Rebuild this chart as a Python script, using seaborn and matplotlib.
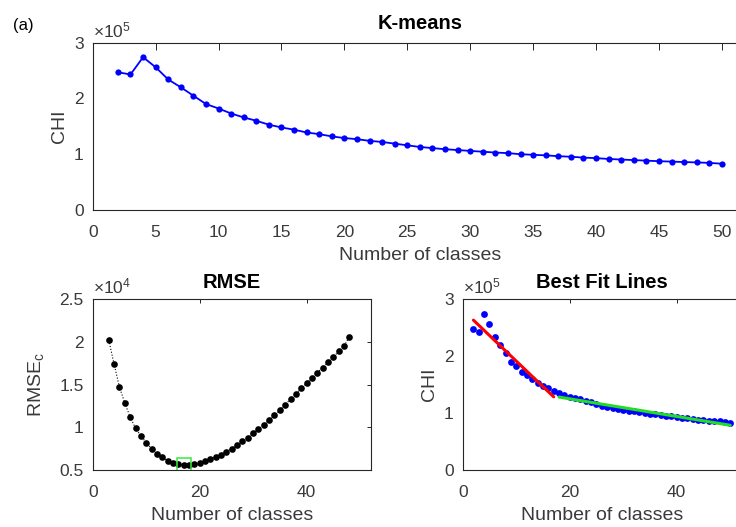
import numpy as np
import pandas as pd
import matplotlib
matplotlib.use("Agg")
import matplotlib.pyplot as plt
import seaborn as sns

# Calinski-Harabasz index for k-means with k = 2..50
classes = list(range(2, 51))
chi = [2.47e5, 2.43e5, 2.74e5, 2.56e5, 2.34e5, 2.20e5, 2.05e5, 1.90e5, 1.82e5,
       1.73e5, 1.66e5, 1.60e5, 1.53e5, 1.48e5, 1.44e5, 1.39e5, 1.36e5, 1.32e5,
       1.29e5, 1.27e5, 1.24e5, 1.22e5, 1.19e5, 1.16e5, 1.13e5, 1.11e5, 1.09e5,
       1.075e5, 1.06e5, 1.045e5, 1.03e5, 1.02e5, 1.00e5, 0.99e5, 0.98e5, 0.965e5,
       0.955e5, 0.94e5, 0.93e5, 0.915e5, 0.905e5, 0.895e5, 0.885e5, 0.875e5,
       0.868e5, 0.86e5, 0.853e5, 0.845e5, 0.83e5]

# RMSE of the two-segment fit, split point c = 3..48
split_points = list(range(3, 49))
rmse = [2.02e4, 1.74e4, 1.47e4, 1.285e4, 1.12e4, 0.99e4, 0.90e4, 0.82e4, 0.75e4,
        0.69e4, 0.65e4, 0.61e4, 0.585e4, 0.565e4, 0.553e4, 0.556e4, 0.57e4,
        0.585e4, 0.605e4, 0.63e4, 0.655e4, 0.68e4, 0.715e4, 0.75e4, 0.79e4,
        0.835e4, 0.88e4, 0.93e4, 0.98e4, 1.03e4, 1.085e4, 1.14e4, 1.20e4,
        1.265e4, 1.33e4, 1.39e4, 1.457e4, 1.515e4, 1.575e4, 1.64e4, 1.70e4,
        1.76e4, 1.82e4, 1.89e4, 1.95e4, 2.06e4]

chi_ticks = [0, 1e5, 2e5, 3e5]
chi_ticklabels = ["0", "1", "2", "3"]
rmse_ticks = [0.5e4, 1e4, 1.5e4, 2e4, 2.5e4]
rmse_ticklabels = ["0.5", "1", "1.5", "2", "2.5"]

sns.set_theme(style="white")
plt.rcParams["font.family"] = ["Liberation Sans", "DejaVu Sans"]
plt.rcParams["mathtext.fontset"] = "custom"
plt.rcParams["mathtext.rm"] = "Liberation Sans"
plt.rcParams["mathtext.it"] = "Liberation Sans:italic"

DARK = "#262626"
GREY = "#3a3a3a"
TICK_FS = 12.5
LABEL_FS = 14
TITLE_FS = 14.5

df_chi = pd.DataFrame({"k": classes, "chi": chi})
df_rmse = pd.DataFrame({"c": split_points, "rmse": rmse})

fig = plt.figure(figsize=(7.36, 5.27), dpi=100)
ax_top = fig.add_axes([0.126, 0.6015, 0.889, 0.3175])
ax_bl = fig.add_axes([0.126, 0.1082, 0.3777, 0.324])
ax_br = fig.add_axes([0.6287, 0.1082, 0.378, 0.324])


def style_axes(ax, ticklen):
    for s in ax.spines.values():
        s.set_visible(True)
        s.set_color(DARK)
        s.set_linewidth(0.8)
    ax.tick_params(direction="in", top=True, right=True, length=ticklen,
                   width=0.7, colors=DARK, labelsize=TICK_FS, labelcolor=GREY)
    ax.tick_params(axis="x", pad=10.5)
    ax.tick_params(axis="y", pad=6.5)
    ax.grid(False)


def exponent(ax, power):
    ax.text(0.0, 1.015, "×10$^{%d}$" % power, transform=ax.transAxes,
            ha="left", va="bottom", fontsize=12.5, color=GREY)


def labels(ax, xlabel, ylabel, title, title_pad, ylabelpad=4):
    ax.set_xlabel(xlabel, fontsize=LABEL_FS, color=GREY, labelpad=5)
    ax.set_ylabel(ylabel, fontsize=LABEL_FS, color=GREY, labelpad=ylabelpad)
    ax.set_title(title, fontsize=TITLE_FS, fontweight="bold", color="black",
                 pad=title_pad)


# Top: CHI against number of classes
sns.lineplot(data=df_chi, x="k", y="chi", ax=ax_top, color="blue",
             marker="o", markersize=4.5, markeredgewidth=0, linewidth=1.3)
ax_top.set_xlim(0, 52)
ax_top.set_ylim(0, 3e5)
ax_top.set_xticks(range(0, 51, 5))
ax_top.set_yticks(chi_ticks)
ax_top.set_yticklabels(chi_ticklabels)
labels(ax_top, "Number of classes", "CHI", "K-means", 10)
style_axes(ax_top, 5)
exponent(ax_top, 5)

# Bottom left: RMSE against split point
sns.lineplot(data=df_rmse, x="c", y="rmse", ax=ax_bl, color="black",
             linestyle=":", linewidth=0.8, marker="o", markersize=4.8,
             markeredgewidth=0)
best = int(np.argmin(rmse))
ax_bl.plot(split_points[best], rmse[best], marker="s", markersize=9.5,
           markerfacecolor="none", markeredgecolor="#3ee63e",
           markeredgewidth=1.1, linestyle="none")
ax_bl.set_xlim(0, 52)
ax_bl.set_ylim(0.5e4, 2.5e4)
ax_bl.set_xticks([0, 20, 40])
ax_bl.set_yticks(rmse_ticks)
ax_bl.set_yticklabels(rmse_ticklabels)
labels(ax_bl, "Number of classes", "RMSE$_{\\mathrm{c}}$", "RMSE", 8,
       ylabelpad=9.5)
style_axes(ax_bl, 3)
exponent(ax_bl, 4)

# Bottom right: CHI with a straight line fitted on each side of the split
sns.scatterplot(data=df_chi, x="k", y="chi", ax=ax_br, color="blue", s=24,
                linewidth=0)
split_k = split_points[best]
k_arr = np.array(classes)
chi_arr = np.array(chi)
left = k_arr <= split_k
right = k_arr > split_k
for mask, col in [(left, "red"), (right, "#22dd22")]:
    kk = k_arr[mask]
    p = np.polyfit(kk, chi_arr[mask], 1)
    fit = pd.DataFrame({"k": kk, "fit": np.polyval(p, kk)})
    sns.lineplot(data=fit, x="k", y="fit", ax=ax_br, color=col, linewidth=2.2)
ax_br.set_xlim(0, 52)
ax_br.set_ylim(0, 3e5)
ax_br.set_xticks([0, 20, 40])
ax_br.set_yticks(chi_ticks)
ax_br.set_yticklabels(chi_ticklabels)
labels(ax_br, "Number of classes", "CHI", "Best Fit Lines", 8)
style_axes(ax_br, 3)
exponent(ax_br, 5)

fig.text(0.017, 0.951, "(a)", fontsize=12, color="black", ha="left", va="center")

fig.savefig("out.png", dpi=100)
